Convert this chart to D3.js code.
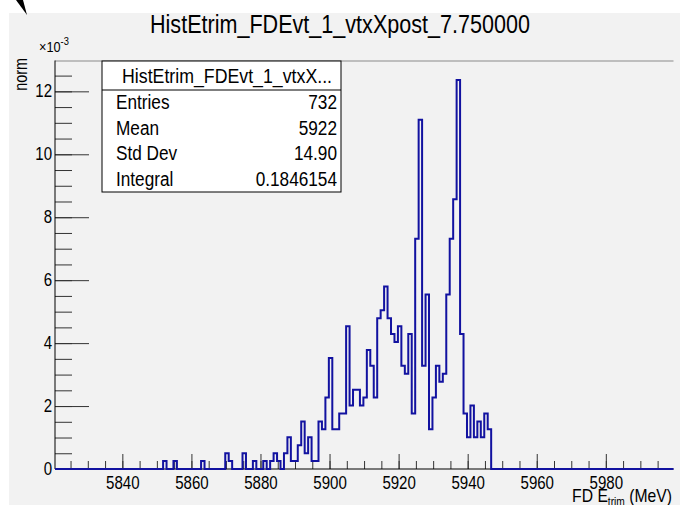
<!DOCTYPE html>
<html><head><meta charset="utf-8">
<script src="https://cdn.jsdelivr.net/npm/d3@7"></script>
<style>
body{margin:0;background:#fff}
svg{display:block}
text{font-family:"Liberation Sans",Arial,Helvetica,sans-serif;fill:#000}
</style>
</head><body>
<svg id="c" width="680" height="505"></svg>
<script>
// ---- data ----
const chartTitle = "HistEtrim_FDEvt_1_vtxXpost_7.750000";
const statsTitle = "HistEtrim_FDEvt_1_vtxX...";
const statsLabels = ["Entries", "Mean", "Std Dev", "Integral"];
const statsValues = ["732", "5922", "14.90", "0.1846154"];
const xRange = [5820.5, 5999.6];
const yMax = 12.98;                 // ×10^-3
const firstBinEdge = 5851.8;
const binWidth = 1;
const entryWeight = 0.1846154 / 732 * 1000; // one entry, in units of 1e-3
const binCounts = [1,0,0,1,0,0,0,0,0,0,0,1,0,0,0,0,0,0,2,1,0,0,0,2,0,0,1,0,0,1,0,1,2,1,0,2,4,1,1,
  3,6,2,4,1,1,6,5,9,14,
  5,5,7,7,18,8,10,10,8,9,
  15,13,9,19,20,23,19,17,16,18,
  13,12,17,7,29,44,13,22,5,9,
  13,11,12,22,29,34,49,17,7,4,
  8,4,6,4,7,5];
const xMajorTicks = [5840, 5860, 5880, 5900, 5920, 5940, 5960, 5980];
const xMinorTicks = d3.range(5825, 6000, 5);
const yMajorTicks = [0, 2, 4, 6, 8, 10, 12];
const yMinorTicks = d3.range(0, 13, 0.5);

// ---- layout ----
const L = 55, R = 673.5, T = 60.5, B = 469;
const svg = d3.select("#c");
function squeeze(sel, f) {
  sel.each(function () {
    const w = this.getComputedTextLength();
    d3.select(this).attr("textLength", w * f).attr("lengthAdjust", "spacingAndGlyphs");
  });
}

svg.append("rect").attr("x", 9).attr("y", 13).attr("width", 671).attr("height", 492).attr("fill", "#f2f2f2");
svg.append("path").attr("d", "M16,0L23,0L27,15Z").attr("fill", "#000");

const x = d3.scaleLinear().domain(xRange).range([L, R]);
const y = d3.scaleLinear().domain([0, yMax]).range([B, T]);

// title
svg.append("text").attr("x", 150).attr("y", 33).attr("font-size", 25)
  .attr("textLength", 380).attr("lengthAdjust", "spacingAndGlyphs").text(chartTitle);

// frame top line
svg.append("line").attr("x1", L).attr("x2", R).attr("y1", T + 0.5).attr("y2", T + 0.5)
  .attr("stroke", "#8a8a8a").attr("stroke-width", 1);

// x axis
const gx = svg.append("g").attr("transform", `translate(0,${B})`);
gx.call(d3.axisBottom(x).tickValues(xMinorTicks).tickSize(-8).tickFormat(""));
gx.call(g => g.selectAll(".domain").remove());
const gx2 = svg.append("g").attr("transform", `translate(0,${B})`);
gx2.call(d3.axisBottom(x).tickValues(xMajorTicks).tickSize(-15).tickPadding(8).tickFormat(d3.format("d")));
gx2.select(".domain").remove();
gx2.selectAll("text").attr("font-size", 17.5).attr("font-family", "Liberation Sans, Arial, sans-serif").attr("fill", "#000");
squeeze(gx2.selectAll("text"), 0.86);

// y axis
const gy = svg.append("g").attr("transform", `translate(${L},0)`);
gy.call(d3.axisLeft(y).tickValues(yMinorTicks).tickSize(-17).tickFormat(""));
gy.select(".domain").remove();
const gy2 = svg.append("g").attr("transform", `translate(${L},0)`);
gy2.call(d3.axisLeft(y).tickValues(yMajorTicks).tickSize(-34).tickPadding(3).tickFormat(d3.format("d")));
gy2.select(".domain").remove();
gy2.selectAll("text").attr("font-size", 17.5).attr("font-family", "Liberation Sans, Arial, sans-serif").attr("fill", "#000");
squeeze(gy2.selectAll("text"), 0.86);
svg.selectAll(".tick line").attr("stroke", "#333");

// axis lines
svg.append("line").attr("x1", L).attr("x2", L).attr("y1", T).attr("y2", B).attr("stroke", "#000");
svg.append("line").attr("x1", L).attr("x2", R).attr("y1", B).attr("y2", B).attr("stroke", "#000");

// histogram outline
const pts = [[xRange[0], 0], [firstBinEdge, 0]];
binCounts.forEach((c, i) => {
  const e0 = firstBinEdge + i * binWidth;
  pts.push([e0, c * entryWeight], [e0 + binWidth, c * entryWeight]);
});
pts.push([firstBinEdge + binCounts.length * binWidth, 0], [xRange[1], 0]);
svg.append("path")
  .attr("d", d3.line().x(d => x(d[0])).y(d => y(d[1]))(pts))
  .attr("fill", "none").attr("stroke", "#1212a0").attr("stroke-width", 2)
  .attr("stroke-linejoin", "miter");

// axis titles
const ex = svg.append("text").attr("transform", "translate(39,52) scale(0.85,1)").attr("font-size", 15);
ex.append("tspan").text("×10");
ex.append("tspan").attr("font-size", 11).attr("dy", -7).text("-3");

svg.append("text").attr("transform", "translate(27,58) rotate(-90) scale(0.8,1)")
  .attr("text-anchor", "end").attr("font-size", 18).text("norm");

const xt = svg.append("text").attr("transform", "translate(672,502) scale(0.85,1)")
  .attr("text-anchor", "end").attr("font-size", 18.5);
xt.append("tspan").text("FD E");
xt.append("tspan").attr("font-size", 12).attr("dy", 4).text("trim");
xt.append("tspan").attr("dy", -4).text(" (MeV)");

// stats box
const sb = svg.append("g");
sb.append("rect").attr("x", 102).attr("y", 61).attr("width", 239).attr("height", 131)
  .attr("fill", "#fff").attr("stroke", "#000").attr("stroke-width", 1);
sb.append("line").attr("x1", 102).attr("x2", 341).attr("y1", 90).attr("y2", 90).attr("stroke", "#000");
sb.append("text").attr("x", 227).attr("y", 83).attr("text-anchor", "middle").attr("font-size", 20)
  .attr("textLength", 210).attr("lengthAdjust", "spacingAndGlyphs").text(statsTitle);
const rowY = [109, 134.5, 160, 185.5];
statsLabels.forEach((s, i) => {
  sb.append("text").attr("x", 116).attr("y", rowY[i]).attr("font-size", 20).text(s);
  sb.append("text").attr("x", 337).attr("y", rowY[i]).attr("text-anchor", "end").attr("font-size", 20).text(statsValues[i]);
});
squeeze(sb.selectAll("text").filter((d, i) => i > 0), 0.86);
</script>
</body></html>
